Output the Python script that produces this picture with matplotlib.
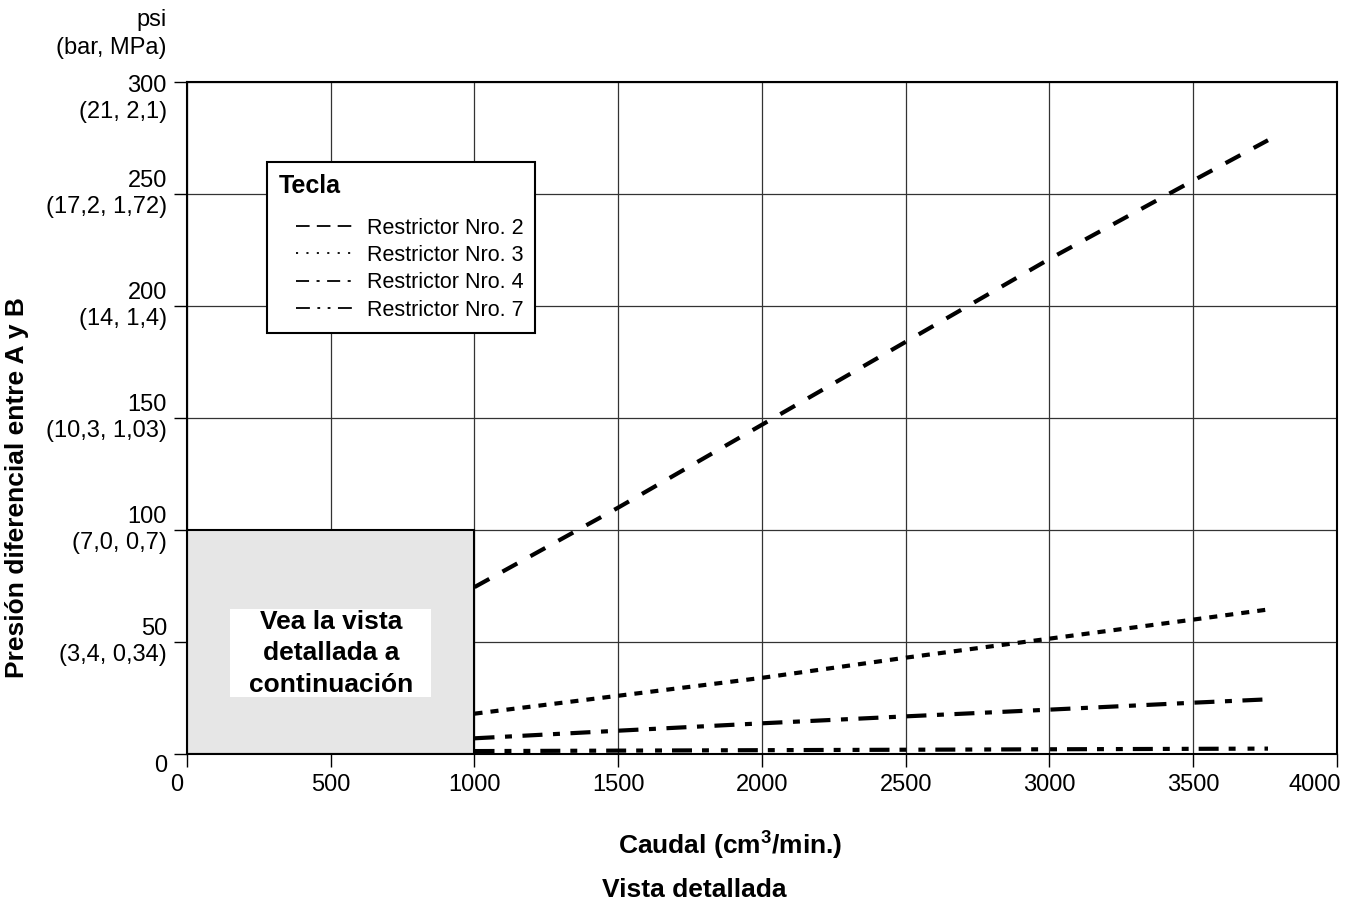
import matplotlib
matplotlib.use("Agg")
import matplotlib.pyplot as plt
import matplotlib.transforms as mtransforms
from matplotlib.lines import Line2D
from matplotlib.patches import Rectangle
from matplotlib.legend_handler import HandlerLine2D

plt.rcParams['font.family'] = ['Liberation Sans', 'DejaVu Sans']
plt.rcParams['lines.scale_dashes'] = False
plt.rcParams['mathtext.fontset'] = 'custom'
plt.rcParams['mathtext.rm'] = 'Liberation Sans'
plt.rcParams['mathtext.bf'] = 'Liberation Sans:bold'

# flow (cm3/min) vs differential pressure (psi)
flow = [1000, 1500, 2000, 2500, 3000, 3500, 3760]
restrictor_2 = [74.5, 110, 147, 184, 221, 256, 274]
restrictor_3 = [18, 26, 34, 43, 51.5, 60, 64.5]
restrictor_4 = [7, 10.4, 13.7, 16.8, 19.8, 22.9, 24.4]
restrictor_7 = [1.3, 1.5, 1.7, 1.9, 2.1, 2.3, 2.4]
series_labels = ["Restrictor Nro. 2", "Restrictor Nro. 3",
                 "Restrictor Nro. 4", "Restrictor Nro. 7"]

x_ticks = [0, 500, 1000, 1500, 2000, 2500, 3000, 3500, 4000]
y_ticks = [0, 50, 100, 150, 200, 250, 300]
y_tick_labels = ["0", "50\n(3,4, 0,34)", "100\n(7,0, 0,7)", "150\n(10,3, 1,03)",
                 "200\n(14, 1,4)", "250\n(17,2, 1,72)", "300\n(21, 2,1)"]

# dash patterns (points) for the curves and for the key
line_dashes = [(12.2, 10.8), (5.8, 5.8), (14.4, 7.6, 5, 7.6),
               (14.4, 7.2, 5, 8.6, 5, 7.2)]
key_dashes = [(9.8, 5.2), (1.5, 6), (9.4, 5.4, 2.2, 5.4),
              (10, 5.4, 2, 5.4, 2, 5.4)]

fig = plt.figure(figsize=(13.59, 9.07), dpi=100)
ax = fig.add_axes([0.1376, 0.1687, 0.8462, 0.7409])

for ys, d in zip([restrictor_2, restrictor_3, restrictor_4, restrictor_7], line_dashes):
    ax.plot(flow, ys, color='black', lw=3, dashes=d, dash_capstyle='butt', zorder=3)

ax.set_xlim(0, 4000)
ax.set_ylim(0, 300)
ax.set_xticks(x_ticks)
ax.set_xticklabels([str(v) for v in x_ticks])
ax.set_yticks(y_ticks)
ax.set_yticklabels(y_tick_labels, va='center', ha='right')
ax.tick_params(direction='out', length=9.5, width=1, labelsize=17, color='black')
ax.tick_params(axis='x', pad=5)
ax.tick_params(axis='y', pad=5)
ax.grid(True, color='#333333', lw=0.9)
ax.set_axisbelow(True)
for s in ax.spines.values():
    s.set_linewidth(1.5)

# nudge a few tick labels like the original
def shift(label, dx, dy):
    label.set_transform(label.get_transform() +
                        mtransforms.ScaledTranslation(dx / 100, dy / 100, fig.dpi_scale_trans))

yt = ax.yaxis.get_major_ticks()
shift(yt[0].label1, 0, -12)
shift(yt[-1].label1, 0, -17)
xt = ax.xaxis.get_major_ticks()
shift(xt[0].label1, -10, 0)
shift(xt[-1].label1, -22, 0)

# shaded zone covered by the detailed view
ax.add_patch(Rectangle((0, 0), 1000, 100, facecolor='#e6e6e6', edgecolor='black',
                       lw=1.5, zorder=2))
ax.add_patch(Rectangle((150, 25.4), 700, 39.3, facecolor='white', edgecolor='none',
                       zorder=2.5))
ax.text(500, 45, "Vea la vista\ndetallada a\ncontinuación", ha='center', va='center',
        fontsize=19, fontweight='bold', linespacing=1.4, zorder=3)

handles = [Line2D([], [], color='black', lw=1.3, dashes=d) for d in key_dashes]
leg = ax.legend(handles, series_labels, title='Tecla', loc='upper left',
                bbox_to_anchor=(267 / 1359, 1 - 162 / 907), bbox_transform=fig.transFigure,
                borderaxespad=0, fontsize=15.5,
                title_fontproperties={'weight': 'bold', 'size': 18},
                alignment='left', frameon=True, fancybox=False, edgecolor='black',
                framealpha=1, borderpad=0.55, handlelength=3.45, handletextpad=0.63,
                labelspacing=0.3, handler_map={Line2D: HandlerLine2D(xpad=0.8)})
leg.get_frame().set_linewidth(1.5)
leg._legend_box.sep = 14.2

fig.text(167 / 1359, 1 - 34 / 907, "psi\n(bar, MPa)", ha='right', va='center',
         fontsize=17, linespacing=1.35)
fig.text(17 / 1359, 1 - 488 / 907, "Presión diferencial entre A y B", rotation=90,
         ha='center', va='center', fontsize=19, fontweight='bold')
fig.text(730 / 1359, 1 - 845 / 907, r"Caudal (cm$^\mathbf{3}$/min.)", ha='center',
         va='center', fontsize=19, fontweight='bold')
fig.text(694 / 1359, 1 - 890 / 907, "Vista detallada", ha='center', va='center',
         fontsize=19, fontweight='bold')

fig.savefig("out.png", dpi=100)
